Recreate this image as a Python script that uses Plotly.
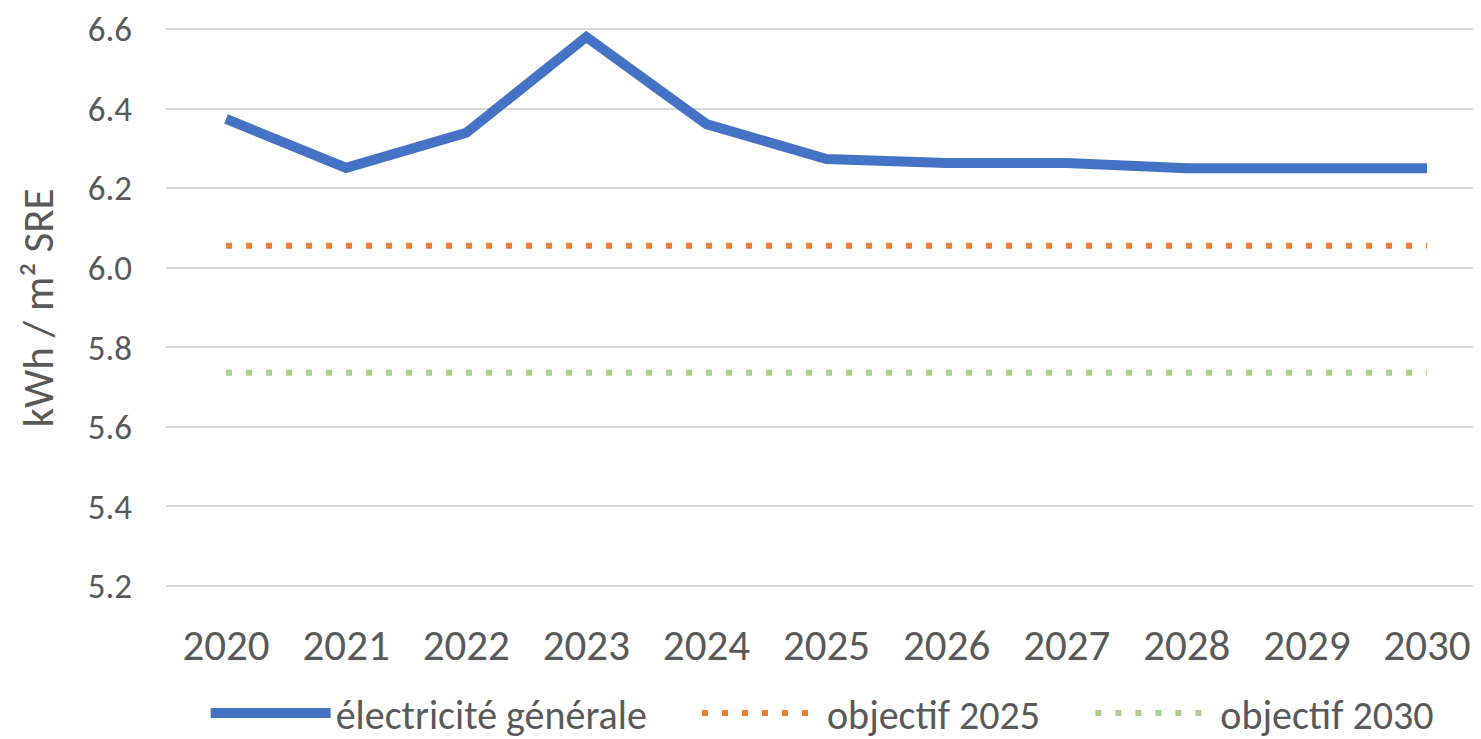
import plotly.graph_objects as go

years = ["2020", "2021", "2022", "2023", "2024", "2025", "2026", "2027", "2028", "2029", "2030"]
electricite = [6.374, 6.251, 6.339, 6.58, 6.361, 6.273, 6.263, 6.263, 6.25, 6.25, 6.25]
objectif_2025 = [6.055] * 11
objectif_2030 = [5.736] * 11
y_ticks = [5.2, 5.4, 5.6, 5.8, 6.0, 6.2, 6.4, 6.6]

FONT = "Calibri, Carlito, Lato, sans-serif"
GREY = "#595959"

fig = go.Figure()
fig.add_trace(go.Scatter(x=years, y=electricite, mode="lines",
                         name="électricité générale" + "\u00a0" * 5,
                         line=dict(color="#4472C4", width=10)))
fig.add_trace(go.Scatter(x=years, y=objectif_2025, mode="lines",
                         name="objectif 2025" + "\u00a0" * 5,
                         line=dict(color="#ED7D31", width=6, dash="6px,14px")))
fig.add_trace(go.Scatter(x=years, y=objectif_2030, mode="lines", name="objectif 2030",
                         line=dict(color="#A9D18E", width=6, dash="6px,14px")))

fig.update_layout(
    width=1481, height=739,
    margin=dict(l=158, r=0, t=12, b=151, autoexpand=False),
    paper_bgcolor="white", plot_bgcolor="white",
    font=dict(family=FONT, color=GREY),
    showlegend=True,
    legend=dict(orientation="h", x=0.03, xanchor="left", y=-0.203, yanchor="middle",
                font=dict(size=40, color=GREY, family=FONT), itemwidth=120,
                bgcolor="rgba(0,0,0,0)"),
)
fig.update_xaxes(type="category", range=[-0.5, 10.516], showgrid=False, showline=False,
                 zeroline=False, ticks="", tickfont=dict(size=43, color=GREY, family=FONT),
                 ticklabelstandoff=20)
fig.update_yaxes(range=[5.1749, 6.6226], tickvals=y_ticks, ticktext=[f"{v:.1f}" for v in y_ticks],
                 showgrid=True, gridcolor="#D9D9D9", gridwidth=2, zeroline=False, showline=False,
                 ticks="", tickfont=dict(size=35, color=GREY, family=FONT), ticklabelstandoff=33,
                 title=dict(text="kWh / m² SRE", font=dict(size=43, color=GREY, family=FONT), standoff=20))

fig.write_html("out.html")
